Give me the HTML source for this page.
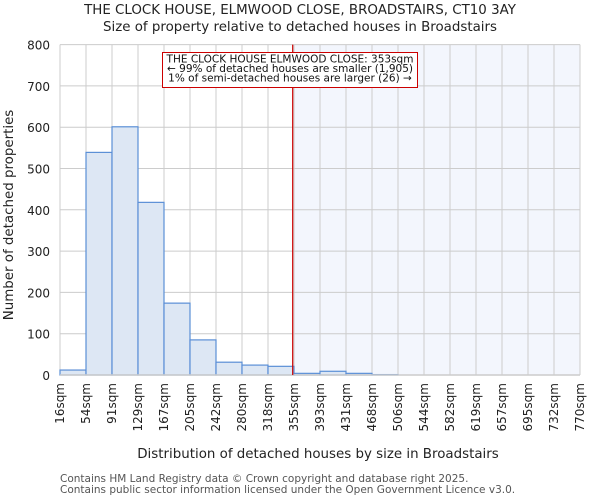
<!DOCTYPE html>
<html><head><meta charset="utf-8"><style>
html,body{margin:0;padding:0;background:#fff;}
svg{display:block;font-family:"DejaVu Sans","Liberation Sans",sans-serif;}
</style></head><body>
<svg id="chart" width="600" height="500" viewBox="0 0 600 500">
<text x="300" y="14" text-anchor="middle" font-size="13.4" fill="#222">THE CLOCK HOUSE, ELMWOOD CLOSE, BROADSTAIRS, CT10 3AY</text>
<text x="300" y="31" text-anchor="middle" font-size="13.4" fill="#222">Size of property relative to detached houses in Broadstairs</text>
<g id="plot"></g>
<text x="318" y="458" text-anchor="middle" font-size="13.4" fill="#222">Distribution of detached houses by size in Broadstairs</text>
<text transform="translate(13,215) rotate(-90)" text-anchor="middle" font-size="13.4" fill="#222">Number of detached properties</text>
<text x="60" y="482" font-size="10.5" fill="#555">Contains HM Land Registry data © Crown copyright and database right 2025.</text>
<text x="60" y="493" font-size="10.5" fill="#555">Contains public sector information licensed under the Open Government Licence v3.0.</text>
</svg>
<script>
const binLabels = ["16sqm","54sqm","91sqm","129sqm","167sqm","205sqm","242sqm","280sqm","318sqm","355sqm","393sqm","431sqm","468sqm","506sqm","544sqm","582sqm","619sqm","657sqm","695sqm","732sqm","770sqm"];
const counts = [12,539,601,418,174,85,31,24,21,4,9,4,1,0,0,0,0,0,0,0];
const yTicks = [0,100,200,300,400,500,600,700,800];
const markerIndex = 8.95;
const annotationLines = ["THE CLOCK HOUSE ELMWOOD CLOSE: 353sqm","← 99% of detached houses are smaller (1,905)","1% of semi-detached houses are larger (26) →"];

const NS="http://www.w3.org/2000/svg";
const L=60,R=580,T=44.6,B=375,yMax=800;
const nb=counts.length;
const xs=i=>L+(R-L)*i/nb;
const ys=v=>B-(B-T)*v/yMax;
const g=document.getElementById('plot');
function mk(tag,attrs){const e=document.createElementNS(NS,tag);for(const k in attrs)e.setAttribute(k,attrs[k]);g.appendChild(e);return e;}

const mx=xs(markerIndex);
const shade=mk('rect',{x:mx,y:T,width:R-mx,height:B-T,fill:'#f3f6fd'});



for(let i=0;i<binLabels.length;i++){
  const gl=mk('line',{x1:xs(i),x2:xs(i),y1:T,y2:B,stroke:'#cccccc','stroke-width':1});
  
  
}
yTicks.forEach(t=>{
  const gl=mk('line',{x1:L,x2:R,y1:ys(t),y2:ys(t),stroke:'#cccccc','stroke-width':1});
  
  
  const tx=mk('text',{x:L-10,y:ys(t)+5,'text-anchor':'end','font-size':12,fill:'#222'});
  tx.textContent=t;
  
  
});

counts.forEach((c,i)=>{
  if(c<=0)return;
  const r=mk('rect',{x:xs(i),y:ys(c),width:xs(i+1)-xs(i),height:B-ys(c),fill:'#dde7f4',stroke:'#5b8fd6','stroke-width':1.2});
  
  
});

const ax=mk('line',{x1:L,x2:R,y1:B,y2:B,stroke:'#cccccc','stroke-width':1.5});



binLabels.forEach((lab,i)=>{
  const x=xs(i);
  const tx=mk('text',{transform:`translate(${x+4},383) rotate(-90)`,'text-anchor':'end','font-size':12,fill:'#222'});
  tx.textContent=lab;
  
  
});

const ml=mk('line',{x1:mx,x2:mx,y1:T,y2:B,stroke:'#cc0000','stroke-width':1.2});



const box=mk('rect',{x:162.5,y:52.5,width:255,height:35,fill:'#fff',stroke:'#cc0000','stroke-width':1});


annotationLines.forEach((t,i)=>{
  const tx=mk('text',{x:290,y:62.5+i*9.5,'text-anchor':'middle','font-size':10.5,fill:'#111'});
  tx.textContent=t;
  
  
});
</script>
</body></html>
